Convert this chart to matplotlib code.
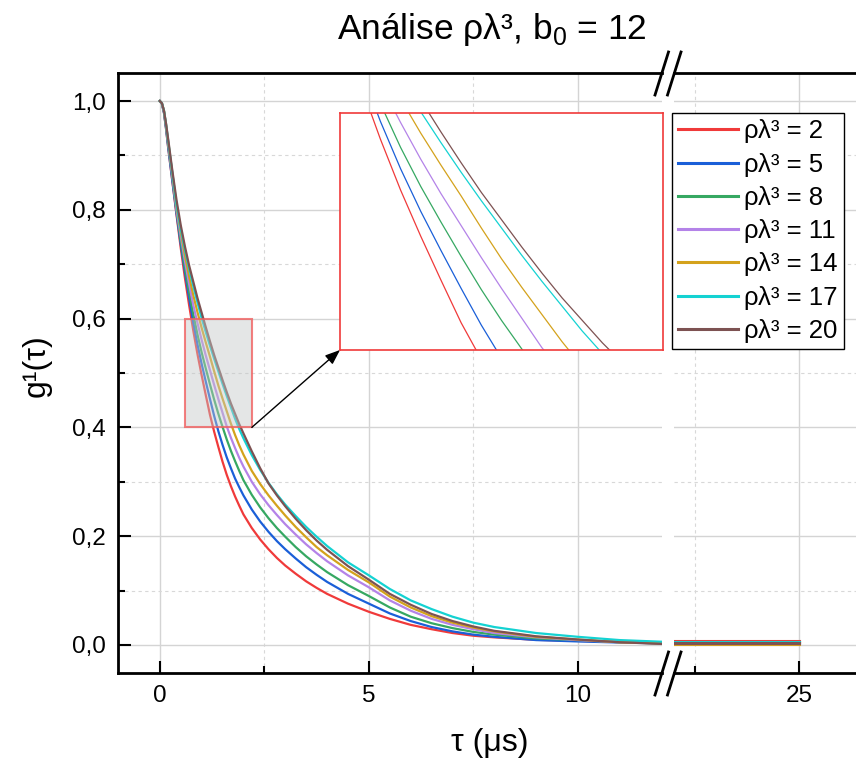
import matplotlib
matplotlib.use("Agg")
import matplotlib.pyplot as plt
from matplotlib.patches import Rectangle, ConnectionPatch
from matplotlib.lines import Line2D
from matplotlib.ticker import FuncFormatter

plt.rcParams['font.family'] = ['Liberation Sans', 'DejaVu Sans']
plt.rcParams['mathtext.fontset'] = 'custom'
plt.rcParams['mathtext.rm'] = 'Liberation Sans'

# tau grid (us) for the left segment
tau = [0, 0.05, 0.1, 0.15, 0.2, 0.3, 0.4, 0.5, 0.6, 0.7, 0.8, 0.9,
       1.0, 1.1, 1.2, 1.3, 1.4, 1.5, 1.6, 1.7, 1.8, 1.9, 2.0,
       2.2, 2.4, 2.6, 2.8, 3.0, 3.25, 3.5, 3.75, 4.0, 4.5, 5.0,
       5.5, 6.0, 6.5, 7.0, 7.5, 8.0, 9.0, 10.0, 11.0, 12.0]

labels = ['ρλ³ = 2', 'ρλ³ = 5', 'ρλ³ = 8', 'ρλ³ = 11', 'ρλ³ = 14', 'ρλ³ = 17', 'ρλ³ = 20']
colors = ['#F03A3A', '#1A5FD8', '#36A862', '#B483E8', '#D4A21C', '#14D2D2', '#7D5252']

g1_2 = [1, .995, .978, .948, .914, .852, .79, .73, .675, .625, .578, .535,
        .496, .459, .423, .392, .364, .337, .313, .292, .273, .256, .240,
        .215, .194, .176, .16, .146, .131, .117, .105, .094, .076, .061,
        .048, .037, .029, .022, .017, .014, .0095, .0075, .006, .005]
g1_5 = [1, .995, .978, .949, .915, .853, .793, .737, .686, .638, .593, .553,
        .517, .484, .452, .421, .393, .368, .345, .325, .306, .29, .275,
        .249, .227, .208, .191, .176, .159, .143, .129, .116, .094, .076,
        .058, .044, .033, .025, .019, .015, .009, .0065, .0045, .003]
g1_8 = [1, .996, .98, .952, .92, .86, .798, .743, .694, .649, .608, .571,
        .538, .508, .479, .451, .425, .401, .378, .357, .338, .32, .303,
        .276, .253, .233, .215, .199, .18, .163, .148, .134, .11, .09,
        .069, .052, .040, .031, .024, .019, .012, .009, .005, .003]
g1_11 = [1, .996, .981, .954, .922, .862, .80, .752, .706, .664, .625, .592,
         .561, .532, .505, .478, .452, .427, .402, .381, .362, .344, .328,
         .30, .277, .257, .239, .222, .203, .185, .169, .154, .128, .106,
         .082, .063, .048, .037, .029, .022, .014, .009, .005, .003]
g1_14 = [1, .996, .982, .956, .925, .866, .806, .76, .717, .678, .643, .612,
         .583, .556, .53, .503, .477, .453, .43, .407, .386, .367, .35,
         .32, .296, .275, .256, .238, .217, .198, .18, .165, .138, .115,
         .089, .069, .053, .041, .032, .025, .015, .010, .005, .003]
g1_17 = [1, .996, .982, .957, .927, .868, .81, .765, .727, .692, .66, .63,
         .601, .575, .55, .526, .503, .48, .458, .437, .416, .397, .38,
         .349, .322, .298, .277, .258, .237, .217, .199, .182, .152, .128,
         .103, .082, .066, .052, .041, .033, .022, .015, .009, .006]
g1_20 = [1, .996, .982, .958, .93, .872, .818, .772, .733, .698, .668, .638,
         .611, .584, .558, .533, .51, .487, .465, .444, .425, .406, .389,
         .356, .325, .297, .275, .255, .232, .211, .192, .175, .145, .12,
         .094, .074, .057, .044, .034, .026, .016, .010, .005, .002]
series = [g1_2, g1_5, g1_8, g1_11, g1_14, g1_17, g1_20]

# right segment (after the axis break)
tau_tail = [22, 25]
g1_tail = [0.008, 0.005, 0.005, 0.004, 0.001, 0.006, 0.004]

fig = plt.figure(figsize=(8.56, 7.6), dpi=100)
W, H = 856, 760
bot, top = 673, 73
axL = fig.add_axes([118 / W, 1 - bot / H, (662 - 118) / W, (bot - top) / H])
axR = fig.add_axes([674 / W, 1 - bot / H, (856 - 674) / W, (bot - top) / H], sharey=axL)

for y, c, lab in zip(series, colors, labels):
    axL.plot(tau, y, color=c, lw=1.6, label=lab, zorder=2)
for v, c in zip(g1_tail, colors):
    axR.plot(tau_tail, [v, v], color=c, lw=2.2, zorder=2)

axL.set_xlim(-1.0, 12.01)
axR.set_xlim(22.01, 26.36)
axL.set_ylim(-0.0515, 1.0515)

comma = FuncFormatter(lambda v, p: f"{v:.1f}".replace('.', ','))
axL.yaxis.set_major_formatter(comma)
axL.set_yticks([0, 0.2, 0.4, 0.6, 0.8, 1.0])
axL.set_yticks([0.1, 0.3, 0.5, 0.7, 0.9], minor=True)
axL.set_xticks([0, 5, 10])
axL.set_xticks([2.5, 7.5], minor=True)
axR.set_xticks([25])
axR.set_xticks([22.5], minor=True)

for ax in (axL, axR):
    ax.tick_params(which='major', direction='in', length=9, width=1.5, labelsize=17.5, pad=9)
    ax.tick_params(which='minor', direction='in', length=5, width=1.5)
    ax.grid(which='major', color='#d4d4d4', lw=1.0)
    ax.grid(which='minor', color='#d8d8d8', lw=0.8, ls=(0, (3, 3)))
    ax.set_axisbelow(True)
    for s in ax.spines.values():
        s.set_linewidth(2)
axL.spines['right'].set_visible(False)
axR.spines['left'].set_visible(False)
axR.spines['right'].set_visible(False)
axR.tick_params(axis='y', which='both', left=False, labelleft=False)

# break marks
for yb in (top, bot):
    for dx in (0, 12.5):
        fig.add_artist(Line2D([(655 + dx) / W, (668.5 + dx) / W],
                              [1 - (yb + 22) / H, 1 - (yb - 21) / H],
                              color='black', lw=2, transform=fig.transFigure))

# zoom box
axL.add_patch(Rectangle((0.6, 0.4), 1.6, 0.2, facecolor='#c4c8c8', alpha=0.45,
                        edgecolor='none', zorder=3))
axL.add_patch(Rectangle((0.6, 0.4), 1.6, 0.2, facecolor='none', edgecolor='#f06060',
                        lw=1.5, alpha=0.8, zorder=3))

# inset
axI = fig.add_axes([340 / W, 1 - 350 / H, 323 / W, 237 / H])
for y, c in zip(series, colors):
    axI.plot(tau, y, color=c, lw=0.9)
axI.set_xlim(0.6, 2.2)
axI.set_ylim(0.4, 0.6)
axI.set_xticks([])
axI.set_yticks([])
for s in axI.spines.values():
    s.set_color('#f03a3a')
    s.set_linewidth(1.2)

con = ConnectionPatch(xyA=(2.2, 0.4), coordsA=axL.transData, xyB=(0, 0), coordsB=axI.transAxes,
                      arrowstyle='-|>,head_length=0.9,head_width=0.35', color='black', lw=1.0,
                      zorder=10)
fig.add_artist(con)

fig.text(37 / W, 1 - 366 / H, 'g¹(τ)', fontsize=23, rotation=90, ha='center', va='center')
fig.text(490 / W, 1 - 743 / H, 'τ (μs)', fontsize=23, ha='center', va='center')
fig.text(492 / W, 1 - 30 / H, 'Análise ρλ³, b$_\\mathregular{0}$ = 12', fontsize=25.5,
         ha='center', va='center')

leg = fig.legend(loc='upper left', bbox_to_anchor=(672 / W, 1 - 113 / H), fontsize=18.5,
                 frameon=True, fancybox=False, edgecolor='black', framealpha=1,
                 borderpad=0.25, labelspacing=0.36, handlelength=2.3, handletextpad=0.25,
                 borderaxespad=0)
leg.get_frame().set_linewidth(1.0)
for h in leg.get_lines():
    h.set_linewidth(2.2)

fig.savefig('out.png', dpi=100)
